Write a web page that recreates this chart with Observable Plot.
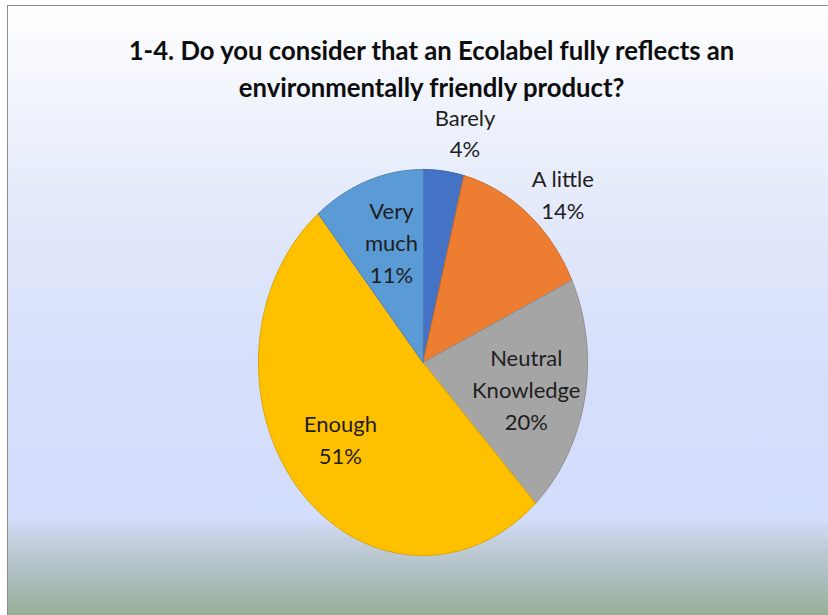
<!DOCTYPE html>
<html>
<head>
<meta charset="utf-8">
<script src="https://cdn.jsdelivr.net/npm/d3@7"></script>
<script src="https://cdn.jsdelivr.net/npm/@observablehq/plot@0.6"></script>
<style>
  html, body { margin: 0; padding: 0; background: #ffffff; overflow: hidden; }
  #bg {
    position: absolute; left: 7px; top: 5px; width: 821px; height: 610px;
    box-sizing: border-box;
    border-top: 1.5px solid #8c8c8c; border-left: 1.5px solid #8c8c8c;
    background: linear-gradient(to bottom, #ffffff 0%, #eef2fc 18%, #dee5fa 42%, #d5dffb 62%, #d3ddfc 84%, #c3cfdc 88%, #b0c0c4 93%, #97ae96 100%);
  }
  #chart { position: absolute; left: 0; top: 0; }
</style>
</head>
<body>
<div id="bg"></div>
<div id="chart"></div>
<script>
// ---- data ----
const titleLines = ["1-4. Do you consider that an Ecolabel fully reflects an", "environmentally friendly product?"];
const categories = ["Barely", "A little", "Neutral Knowledge", "Enough", "Very much"];
const values = [4, 14, 20, 51, 11];
const percentLabels = ["4%", "14%", "20%", "51%", "11%"];
const sliceColors = ["#4472C4", "#ED7D31", "#A5A5A5", "#FFC000", "#5B9BD5"];

// ---- layout helpers (not data) ----
const wrapped = {"Neutral Knowledge": "Neutral\nKnowledge", "Very much": "Very\nmuch"};
const outsideLabels = new Set(["Barely", "A little"]);
const FONT = "Lato, 'Liberation Sans', sans-serif";
const DEG = Math.PI / 180;

const total = d3.sum(values);
let cum = 0;
const slices = categories.map((c, i) => {
  const a0 = cum / total * 2 * Math.PI;
  cum += values[i];
  const a1 = cum / total * 2 * Math.PI;
  const col = sliceColors[i];
  return {cat: c, value: values[i], a0, a1, fill: col, stroke: d3.color(col).darker(0.45).formatHex()};
});

// polygon vertices for each slice (unit circle, angle clockwise from 12 o'clock)
const piePoints = slices.flatMap(s => {
  const n = Math.max(4, Math.ceil((s.a1 - s.a0) / (Math.PI / 360)));
  const arr = [{cat: s.cat, fill: s.fill, stroke: s.stroke, x: 0, y: 0}];
  for (let k = 0; k <= n; k++) {
    const a = s.a0 + (s.a1 - s.a0) * k / n;
    arr.push({cat: s.cat, fill: s.fill, stroke: s.stroke, x: Math.sin(a), y: Math.cos(a)});
  }
  return arr;
});

// label anchor points
const labels = slices.map((s, i) => {
  const outside = outsideLabels.has(s.cat);
  const a = (s.a0 + s.a1) / 2 + (outside ? 5 : 2.5) * DEG;
  const r = outside ? 1.21 : 0.645;
  return {x: r * Math.sin(a), y: r * Math.cos(a), text: (wrapped[s.cat] || s.cat) + "\n" + percentLabels[i]};
});

const chart = Plot.plot({
  width: 828,
  height: 615,
  margin: 0,
  x: {domain: [-1, 1], range: [258, 587], axis: null},
  y: {domain: [-1, 1], range: [555, 169], axis: null},
  color: {type: "identity"},
  style: {background: "transparent", overflow: "visible", fontFamily: FONT},
  marks: [
    Plot.line(piePoints, {x: "x", y: "y", z: "cat", fill: "fill", stroke: "stroke", strokeWidth: 1, curve: "linear-closed"}),
    Plot.text(labels, {x: "x", y: "y", text: "text", dy: -3, fontSize: 22, lineHeight: 1.45, lineAnchor: "middle", fill: "#1e1e1e", fontFamily: FONT}),
    Plot.text([titleLines.join("\n")], {frameAnchor: "top", text: d => d, dx: 17, dy: 33, lineAnchor: "top", lineHeight: 1.45, fontSize: 25.7, fontWeight: "bold", fill: "#0d0d0d", fontFamily: FONT})
  ]
});
document.getElementById("chart").appendChild(chart);
</script>
</body>
</html>
